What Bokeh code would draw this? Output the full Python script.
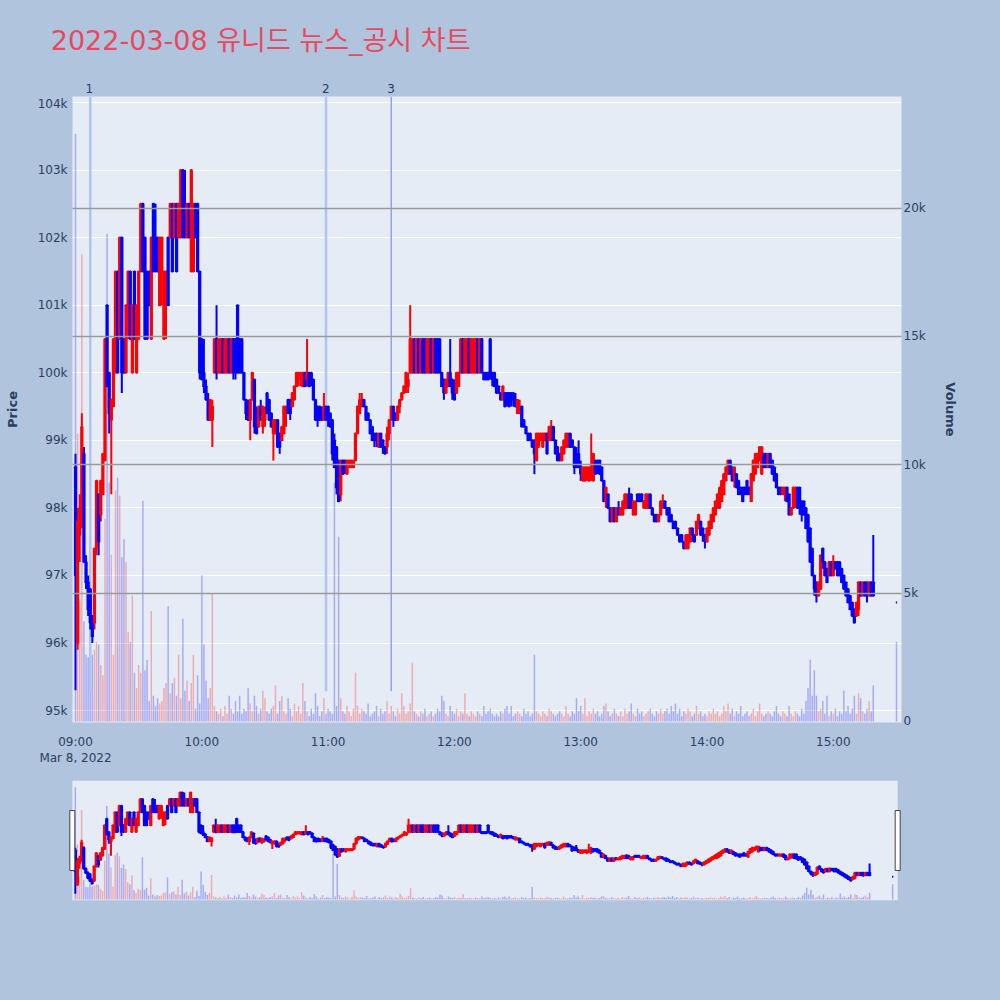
import pandas as pd
from bokeh.plotting import figure
from bokeh.models import (Range1d, LinearAxis, FixedTicker, Grid, ColumnDataSource,
                          NumeralTickFormatter)
from bokeh.core.properties import value
from bokeh.embed import file_html
from bokeh.resources import INLINE

# ---------------- data ----------------
TITLE = "2022-03-08 유니드 뉴스_공시 차트"
DATE_LABEL = "Mar 8, 2022"
SESSION_START = "2022-03-08 09:00"
CONTINUOUS_END = "2022-03-08 15:19"
CLOSE_AUCTION = "2022-03-08 15:30"
PRICE_UNIT = 100     # prices below are in units of 100 KRW
VOLUME_UNIT = 100    # volumes below are in units of 100 shares

OPEN = [
    986, 960, 976, 978, 988, 972, 969, 968, 964, 963,
    974, 982, 979, 982, 987, 1010, 1000, 993, 995, 1000,
    1015, 1005, 1020, 1005, 1000, 1010, 1015, 1000, 1015, 1000,
    1005, 1015, 1025, 1020, 1015, 1015, 1005, 1025, 1020, 1020,
    1010, 1015, 1005, 1010, 1020, 1020, 1025, 1020, 1025, 1020,
    1020, 1030, 1025, 1020, 1025, 1015, 1015, 1025, 1025, 1015,
    1005, 1000, 998, 996, 993, 993, 1000, 1005, 1000, 1000,
    1005, 1000, 1000, 1005, 1000, 1005, 1005, 1010, 1005, 1005,
    1000, 996, 995, 993, 996, 999, 994, 992, 995, 992,
    993, 997, 996, 994, 991, 991, 993, 991, 990, 991,
    994, 996, 996, 995, 996, 998, 999, 999, 998, 1000,
    999, 1000, 1000, 999, 996, 995, 995, 994, 993, 995,
    995, 994, 993, 990, 989, 987, 982, 987, 987, 985,
    986, 986, 986, 987, 991, 994, 995, 996, 995, 994,
    993, 992, 991, 991, 989, 991, 990, 989, 989, 991,
    993, 995, 994, 993, 995, 996, 997, 998, 998, 1000,
    1000, 1005, 1000, 1005, 1000, 1005, 1005, 1000, 1000, 1005,
    1000, 1005, 1005, 1005, 1000, 999, 997, 998, 1000, 999,
    997, 997, 998, 1000, 1005, 1000, 1000, 1005, 1000, 1000,
    1000, 1005, 1000, 1005, 1000, 1000, 1000, 1005, 1000, 1000,
    999, 998, 997, 996, 997, 997, 997, 997, 997, 996,
    994, 994, 995, 993, 992, 991, 991, 990, 990, 987,
    989, 990, 989, 990, 991, 990, 990, 992, 990, 989,
    988, 987, 988, 989, 989, 991, 990, 989, 988, 988,
    986, 984, 984, 985, 984, 985, 984, 987, 987, 987,
    986, 984, 981, 982, 980, 978, 980, 978, 980, 979,
    979, 980, 980, 982, 982, 979, 979, 982, 982, 982,
    980, 980, 980, 982, 980, 979, 979, 978, 979, 980,
    981, 980, 980, 979, 978, 978, 977, 976, 976, 975,
    974, 974, 975, 977, 976, 976, 977, 978, 977, 976,
    975, 976, 977, 978, 979, 980, 980, 981, 982, 984,
    985, 987, 986, 984, 985, 984, 983, 983, 983, 984,
    983, 981, 984, 985, 986, 987, 985, 988, 988, 986,
    988, 987, 986, 985, 983, 983, 982, 982, 983, 982,
    979, 980, 981, 983, 983, 981, 981, 980, 979, 977,
    974, 970, 969, 967, 968, 974, 972, 971, 970, 972,
    970, 972, 972, 972, 971, 970, 969, 968, 967, 966,
    965, 964, 965, 969, 967, 969, 969, 967, 969, 969,
    966,
]
HIGH = [
    988, 980, 982, 994, 989, 973, 970, 968, 964, 974,
    984, 982, 984, 988, 1005, 1010, 1000, 996, 1005, 1015,
    1015, 1020, 1020, 1005, 1010, 1015, 1015, 1010, 1015, 1010,
    1015, 1025, 1025, 1020, 1015, 1015, 1020, 1025, 1025, 1020,
    1020, 1020, 1015, 1015, 1020, 1025, 1025, 1025, 1025, 1025,
    1030, 1030, 1030, 1025, 1025, 1030, 1025, 1025, 1025, 1015,
    1005, 1005, 999, 997, 996, 996, 1005, 1010, 1005, 1005,
    1005, 1005, 1005, 1005, 1005, 1005, 1005, 1010, 1005, 1005,
    1000, 996, 996, 996, 1000, 999, 995, 995, 996, 995,
    995, 997, 996, 994, 993, 993, 993, 991, 992, 995,
    995, 996, 996, 997, 998, 1000, 1000, 1000, 1000, 1000,
    1005, 1000, 1000, 999, 996, 995, 995, 995, 997, 995,
    995, 994, 993, 991, 989, 987, 987, 987, 987, 987,
    987, 987, 987, 991, 995, 997, 997, 996, 995, 994,
    993, 992, 991, 991, 991, 991, 990, 989, 992, 993,
    995, 995, 994, 995, 996, 997, 998, 1000, 1000, 1010,
    1005, 1005, 1005, 1005, 1005, 1005, 1005, 1005, 1005, 1005,
    1005, 1005, 1005, 1005, 1000, 999, 999, 1000, 1005, 999,
    999, 1000, 1000, 1005, 1005, 1005, 1005, 1005, 1005, 1005,
    1005, 1005, 1005, 1005, 1000, 1000, 1000, 1005, 1000, 1000,
    999, 998, 997, 998, 997, 997, 997, 997, 997, 997,
    996, 996, 995, 993, 992, 991, 991, 990, 990, 991,
    991, 991, 991, 991, 991, 992, 993, 992, 990, 989,
    988, 989, 990, 991, 991, 991, 990, 989, 989, 990,
    987, 986, 986, 986, 986, 991, 988, 987, 987, 987,
    986, 984, 983, 982, 980, 980, 980, 980, 981, 980,
    981, 982, 982, 983, 982, 981, 981, 982, 982, 982,
    981, 982, 982, 982, 980, 979, 979, 979, 981, 982,
    981, 980, 980, 979, 978, 978, 977, 976, 976, 975,
    976, 976, 977, 977, 976, 978, 979, 978, 977, 976,
    977, 978, 979, 980, 981, 982, 983, 984, 985, 986,
    987, 987, 986, 986, 985, 984, 983, 983, 983, 984,
    983, 985, 987, 988, 988, 989, 989, 988, 988, 988,
    988, 987, 986, 985, 983, 983, 983, 983, 983, 982,
    980, 983, 983, 983, 983, 981, 981, 980, 979, 977,
    974, 970, 969, 969, 973, 974, 972, 971, 972, 972,
    973, 972, 972, 972, 971, 970, 969, 968, 967, 966,
    965, 966, 969, 969, 969, 969, 969, 969, 969, 976,
    966,
]
LOW = [
    953, 959, 972, 977, 972, 968, 964, 962, 960, 962,
    973, 973, 978, 982, 987, 998, 991, 982, 995, 1000,
    1000, 1005, 997, 1000, 1000, 1005, 1005, 1000, 1005, 1000,
    1005, 1015, 1015, 1005, 1005, 1010, 1005, 1015, 1015, 1015,
    1010, 1010, 1005, 1005, 1010, 1020, 1015, 1020, 1015, 1020,
    1020, 1020, 1020, 1020, 1020, 1015, 1015, 1020, 1015, 999,
    999, 997, 996, 993, 993, 989, 1000, 999, 1000, 1000,
    1000, 1000, 1000, 1000, 1000, 999, 999, 1000, 1000, 1000,
    996, 993, 993, 990, 996, 991, 991, 992, 993, 991,
    992, 994, 993, 992, 987, 991, 989, 988, 990, 991,
    992, 994, 993, 995, 996, 998, 998, 998, 998, 998,
    998, 998, 998, 996, 993, 992, 993, 993, 993, 993,
    992, 992, 987, 986, 982, 981, 981, 985, 985, 985,
    986, 986, 986, 987, 991, 994, 995, 995, 993, 993,
    991, 990, 989, 989, 989, 989, 988, 988, 988, 990,
    993, 992, 993, 993, 994, 996, 997, 997, 997, 1000,
    1000, 1000, 1000, 1000, 1000, 1000, 1000, 1000, 1000, 1000,
    1000, 1000, 1000, 1000, 998, 996, 997, 998, 998, 996,
    996, 997, 998, 1000, 1000, 1000, 1000, 1000, 1000, 1000,
    1000, 1000, 1000, 1000, 999, 999, 999, 999, 998, 998,
    997, 997, 996, 996, 995, 995, 995, 995, 995, 995,
    994, 994, 992, 992, 991, 990, 990, 989, 985, 987,
    989, 990, 989, 990, 988, 990, 990, 990, 988, 987,
    987, 987, 988, 989, 989, 989, 989, 985, 986, 986,
    984, 984, 984, 984, 984, 984, 984, 985, 985, 985,
    984, 981, 980, 980, 978, 978, 978, 978, 979, 979,
    979, 980, 980, 980, 980, 979, 979, 981, 981, 981,
    980, 980, 980, 980, 979, 978, 978, 978, 979, 980,
    980, 979, 978, 978, 977, 977, 976, 975, 975, 974,
    974, 974, 975, 975, 975, 976, 977, 976, 975, 974,
    975, 976, 977, 978, 979, 980, 980, 981, 982, 984,
    985, 985, 984, 983, 983, 982, 982, 981, 982, 982,
    982, 981, 984, 985, 986, 987, 985, 986, 986, 986,
    986, 985, 984, 983, 982, 982, 982, 981, 981, 979,
    979, 980, 980, 980, 979, 978, 979, 977, 975, 972,
    970, 967, 966, 967, 968, 971, 970, 969, 970, 970,
    970, 971, 970, 970, 969, 968, 967, 966, 965, 964,
    963, 964, 964, 967, 967, 967, 966, 967, 967, 967,
    966,
]
CLOSE = [
    970, 978, 980, 992, 972, 969, 965, 963, 961, 974,
    984, 975, 984, 988, 1005, 998, 994, 996, 1005, 1015,
    1000, 1020, 1000, 1000, 1010, 1015, 1005, 1010, 1005, 1010,
    1015, 1025, 1015, 1005, 1005, 1010, 1020, 1015, 1015, 1015,
    1020, 1020, 1015, 1015, 1010, 1025, 1015, 1025, 1015, 1025,
    1030, 1020, 1020, 1025, 1020, 1030, 1025, 1020, 1015, 1000,
    999, 998, 996, 993, 996, 995, 1005, 1000, 1005, 1005,
    1000, 1005, 1005, 1000, 1005, 1000, 1000, 1000, 1000, 1000,
    996, 994, 993, 996, 1000, 992, 991, 995, 993, 995,
    994, 994, 993, 992, 993, 993, 989, 989, 992, 995,
    995, 994, 994, 997, 998, 1000, 1000, 1000, 1000, 998,
    1000, 998, 999, 996, 993, 993, 993, 993, 995, 993,
    993, 992, 988, 986, 983, 981, 987, 985, 986, 987,
    987, 987, 987, 991, 995, 996, 996, 995, 993, 993,
    991, 990, 990, 990, 991, 989, 989, 988, 991, 993,
    995, 993, 993, 995, 996, 997, 998, 1000, 999, 1005,
    1005, 1000, 1005, 1000, 1005, 1000, 1000, 1005, 1005, 1000,
    1005, 1000, 1000, 1000, 998, 997, 999, 1000, 998, 997,
    996, 1000, 1000, 1005, 1000, 1005, 1005, 1000, 1005, 1005,
    1005, 1000, 1005, 1000, 999, 999, 999, 1000, 999, 998,
    997, 997, 996, 998, 995, 996, 995, 996, 996, 995,
    996, 995, 992, 992, 991, 990, 990, 989, 988, 991,
    991, 991, 991, 991, 988, 992, 992, 990, 988, 987,
    987, 989, 990, 991, 991, 989, 989, 986, 986, 986,
    985, 986, 986, 986, 986, 986, 988, 985, 986, 985,
    984, 981, 983, 980, 978, 980, 978, 980, 979, 980,
    981, 982, 982, 980, 980, 981, 981, 981, 981, 981,
    981, 982, 982, 980, 979, 978, 978, 979, 981, 981,
    980, 979, 978, 978, 977, 977, 976, 975, 975, 974,
    976, 976, 977, 976, 975, 978, 979, 976, 976, 975,
    977, 978, 979, 980, 981, 982, 983, 984, 985, 986,
    987, 985, 984, 986, 983, 982, 982, 981, 982, 982,
    982, 985, 987, 988, 988, 989, 989, 986, 986, 988,
    986, 985, 984, 983, 982, 982, 983, 983, 981, 979,
    980, 983, 983, 980, 980, 979, 979, 977, 975, 972,
    970, 968, 967, 969, 973, 972, 970, 969, 972, 970,
    972, 971, 970, 970, 969, 968, 967, 966, 965, 964,
    963, 966, 969, 967, 969, 967, 967, 969, 967, 967,
    966,
]
VOLUME = [
    229, 112, 47, 182, 39, 26, 25, 31, 26, 28,
    31, 30, 22, 18, 79, 190, 93, 65, 26, 90,
    95, 88, 64, 71, 62, 35, 31, 49, 19, 13,
    22, 19, 86, 20, 24, 8, 43, 10, 6, 9,
    7, 8, 13, 15, 45, 11, 15, 17, 10, 26,
    9, 40, 12, 16, 8, 15, 26, 5, 18, 7,
    57, 30, 16, 9, 13, 50, 6, 4, 3, 5,
    2, 6, 3, 10, 5, 3, 8, 4, 10, 3,
    5, 4, 13, 7, 4, 10, 6, 3, 5, 12,
    9, 4, 3, 5, 6, 14, 3, 8, 10, 4,
    3, 9, 5, 2, 7, 4, 6, 3, 15, 8,
    4, 2, 5, 3, 11, 6, 2, 4, 9, 3,
    5, 4, 3, 93, 6, 72, 9, 4, 3, 6,
    4, 2, 5, 19, 6, 3, 5, 4, 3, 7,
    2, 3, 4, 6, 2, 5, 3, 4, 8, 3,
    6, 4, 2, 5, 3, 11, 6, 3, 4, 7,
    23, 4, 3, 2, 4, 3, 5, 2, 3, 4,
    2, 3, 5, 4, 10, 8, 3, 2, 6, 4,
    3, 5, 2, 4, 3, 11, 3, 2, 4, 3,
    2, 4, 3, 2, 6, 3, 4, 5, 3, 2,
    3, 2, 4, 3, 5, 6, 3, 6, 2, 3,
    4, 3, 2, 5, 3, 4, 2, 3, 26, 4,
    3, 2, 4, 3, 2, 5, 4, 3, 2, 3,
    4, 3, 2, 6, 3, 2, 4, 3, 9, 4,
    6, 3, 9, 2, 4, 3, 5, 3, 4, 2,
    3, 6, 7, 4, 2, 3, 5, 3, 2, 4,
    2, 5, 3, 4, 7, 3, 2, 5, 3, 4,
    2, 3, 4, 5, 3, 2, 4, 3, 5, 3,
    4, 5, 3, 6, 4, 7, 3, 5, 2, 4,
    3, 5, 4, 2, 3, 6, 3, 4, 2, 3,
    2, 4, 3, 5, 3, 4, 2, 3, 6, 4,
    7, 3, 5, 2, 4, 3, 6, 2, 3, 4,
    2, 3, 5, 2, 4, 7, 3, 2, 3, 4,
    3, 2, 4, 6, 3, 2, 4, 3, 2, 6,
    3, 2, 4, 3, 2, 5, 3, 8, 13, 24,
    10, 20, 10, 4, 5, 8, 3, 10, 2, 4,
    3, 5, 2, 4, 3, 12, 4, 6, 3, 5,
    10, 3, 11, 9, 4, 3, 5, 8, 4, 14,
    31,
]
EVENT_TIMES = ["2022-03-08 09:07", "2022-03-08 10:59", "2022-03-08 11:30"]
EVENT_LABELS = ["1", "2", "3"]
HOUR_TICKS = ["09:00", "10:00", "11:00", "12:00", "13:00", "14:00", "15:00"]
PRICE_TICKS = [95000, 96000, 97000, 98000, 99000, 100000, 101000, 102000, 103000, 104000]
VOLUME_TICKS = [0, 5000, 10000, 15000, 20000]

# ---------------- style ----------------
PAPER = "#b0c4de"
PLOT_BG = "#e5ecf6"
TEXT = "#2a3f5f"
UP = "#ff0000"
DOWN = "#0000ff"
FONT = "DejaVu Sans"
TITLE_FONT = "DejaVu Sans, Noto Sans CJK KR"
TITLE_COLOR = "#e9485d"
MIN = pd.Timedelta(minutes=1)
BODY_W = 0.6 * MIN
VOL_W = 0.7 * MIN

X_START = pd.Timestamp("2022-03-08 08:58:34")
X_END = pd.Timestamp("2022-03-08 15:32:24")
PRICE_RANGE = (94824, 104088)
VOL_RANGE = (-40, 24350)
SL_PRICE_RANGE = (94790, 103910)
SL_VOL_RANGE = (-200, 24200)

# layout (pixels)
W = 1000
HEADER_H = 96
FRAME_L, FRAME_R = 72, 901

times = list(pd.date_range(SESSION_START, CONTINUOUS_END, freq="1min")) + [pd.Timestamp(CLOSE_AUCTION)]
o = [v * PRICE_UNIT for v in OPEN]
h = [v * PRICE_UNIT for v in HIGH]
l = [v * PRICE_UNIT for v in LOW]
c = [v * PRICE_UNIT for v in CLOSE]
vol = [v * VOLUME_UNIT for v in VOLUME]
colors = [UP if cc > oo else DOWN for oo, cc in zip(o, c)]
src = ColumnDataSource(dict(t=times, o=o, h=h, l=l, c=c, v=vol, color=colors,
                            top=[max(a, b) for a, b in zip(o, c)],
                            bot=[min(a, b) for a, b in zip(o, c)]))


def ms(ts):
    return pd.Timestamp(ts).value // 10**6


ev_ms = [ms(t) for t in EVENT_TIMES]
mpp_main = (X_END - X_START) / (FRAME_R - FRAME_L)

# ---------------- header (title + event numbers) ----------------
p0 = figure(width=W, height=HEADER_H, x_axis_type="datetime",
            x_range=Range1d(X_START - FRAME_L * mpp_main, X_END + (W - FRAME_R) * mpp_main),
            y_range=Range1d(0, HEADER_H),
            output_backend="svg", toolbar_location=None, tools="",
            min_border=0, min_border_left=0, min_border_right=0, min_border_top=0,
            min_border_bottom=0, background_fill_color=PAPER, border_fill_color=PAPER,
            outline_line_color=None, x_axis_location=None, y_axis_location=None)
p0.grid.visible = False
p0.text(x=[X_START - 21 * mpp_main], y=[HEADER_H - 40], text=[TITLE],
        text_font=value(TITLE_FONT), text_font_size=value("27px"), text_color=TITLE_COLOR,
        text_align="left", text_baseline="middle")
p0.text(x=ev_ms, y=[0] * len(ev_ms), text=EVENT_LABELS, text_font=value(FONT),
        text_font_size=value("12px"), text_color=TEXT, text_align="center",
        text_baseline="bottom", y_offset=-4)

# ---------------- main chart ----------------
p = figure(width=W, height=768 - HEADER_H, x_axis_type="datetime",
           x_range=Range1d(X_START, X_END), y_range=Range1d(*PRICE_RANGE),
           output_backend="svg", toolbar_location=None, tools="",
           min_border_left=FRAME_L, min_border_right=W - FRAME_R, min_border_top=0,
           min_border_bottom=39,
           background_fill_color=PLOT_BG, border_fill_color=PAPER, outline_line_color=None)

p.extra_y_ranges = {"vol": Range1d(*VOL_RANGE)}

# axes
ya = p.yaxis[0]
ya.ticker = FixedTicker(ticks=PRICE_TICKS)
ya.formatter = NumeralTickFormatter(format="0a")
ya.axis_label = "Price"
xa = p.xaxis[0]
xa.ticker = FixedTicker(ticks=[ms(f"2022-03-08 {hh}") for hh in HOUR_TICKS])
xa.major_label_overrides = {
    ms(f"2022-03-08 {hh}"): (hh + "\n" + DATE_LABEL if i == 0 else hh)
    for i, hh in enumerate(HOUR_TICKS)
}
va = LinearAxis(y_range_name="vol", ticker=FixedTicker(ticks=VOLUME_TICKS),
                formatter=NumeralTickFormatter(format="0a"), axis_label="Volume")
p.add_layout(va, "right")

for ax in (ya, xa, va):
    ax.axis_line_color = None
    ax.major_tick_line_color = None
    ax.minor_tick_line_color = None
    ax.major_label_text_font = FONT
    ax.major_label_text_font_size = "12px"
    ax.major_label_text_color = TEXT
    ax.axis_label_text_font = FONT
    ax.axis_label_text_font_size = "13px"
    ax.axis_label_text_font_style = "bold"
    ax.axis_label_text_color = TEXT
ya.major_tick_out = 0
ya.minor_tick_out = 0
ya.major_label_standoff = 5
ya.axis_label_standoff = 15
va.major_tick_out = 0
va.minor_tick_out = 0
va.major_label_standoff = 2
va.axis_label_standoff = 14
if hasattr(va, "axis_label_orientation"):
    va.axis_label_orientation = "vertical"
xa.major_label_standoff = 6

p.xgrid.visible = False
p.ygrid.ticker = FixedTicker(ticks=PRICE_TICKS)
p.ygrid.grid_line_color = "white"
p.ygrid.grid_line_width = 1

# volume bars
p.vbar(x="t", width=VOL_W, top="v", bottom=0, y_range_name="vol", source=src,
       fill_color="color", fill_alpha=0.28, line_color=None)

# event lines
ev_bottom = PRICE_RANGE[0] + 0.05 * (PRICE_RANGE[1] - PRICE_RANGE[0])
p.segment(x0=ev_ms, x1=ev_ms, y0=[ev_bottom] * 3, y1=[PRICE_RANGE[1]] * 3,
          line_color=["#b3c3f0", "#b3c3f0", "#8fa3ee"], line_width=[2.5, 2.5, 1.5])

# candles
p.segment(x0="t", x1="t", y0="l", y1="h", source=src, line_color="color", line_width=2)
p.vbar(x="t", width=BODY_W, top="top", bottom="bot", source=src,
       fill_color="color", line_color="color", line_width=2)

# volume grid (drawn above)
g = Grid(dimension=1, ticker=FixedTicker(ticks=VOLUME_TICKS[1:]), y_range_name="vol",
         grid_line_color="#9a9a9a", grid_line_width=1.3, level="annotation")
p.add_layout(g)

# ---------------- range slider ----------------
span_px = 825.0
mpp = (X_END - X_START) / span_px
p2 = figure(width=W, height=232, x_axis_type="datetime",
            x_range=Range1d(X_START - 8 * mpp, X_END + 8 * mpp), y_range=Range1d(*SL_PRICE_RANGE),
            output_backend="svg", toolbar_location=None, tools="",
            min_border_left=64, min_border_right=95, min_border_top=12, min_border_bottom=100,
            background_fill_color=PAPER, border_fill_color=PAPER, outline_line_color=None,
            x_axis_location=None, y_axis_location=None)
p2.grid.visible = False
p2.extra_y_ranges = {"vol": Range1d(*SL_VOL_RANGE)}
p2.quad(left=[X_START], right=[X_END], bottom=[SL_PRICE_RANGE[0]], top=[SL_PRICE_RANGE[1]],
        fill_color=PLOT_BG, line_color=None)
p2.vbar(x="t", width=VOL_W, top="v", bottom=0, y_range_name="vol", source=src,
        fill_color="color", fill_alpha=0.28, line_color=None)
p2.segment(x0="t", x1="t", y0="l", y1="h", source=src, line_color="color", line_width=2)
p2.vbar(x="t", width=BODY_W, top="top", bottom="bot", source=src,
        fill_color="color", line_color="color", line_width=2)
mid = (SL_PRICE_RANGE[0] + SL_PRICE_RANGE[1]) / 2
p2.rect(x=[X_START, X_END], y=[mid, mid], width=5, height=60, width_units="screen",
        height_units="screen", fill_color="white", line_color="#444444", line_width=1)

# three independent roots stacked on the page (no cross-plot frame alignment)
html = file_html([p0, p, p2], INLINE, title="chart")
html = html.replace("<body>", '<body style="background-color:%s;">' % PAPER)
open("out.html", "w").write(html)
